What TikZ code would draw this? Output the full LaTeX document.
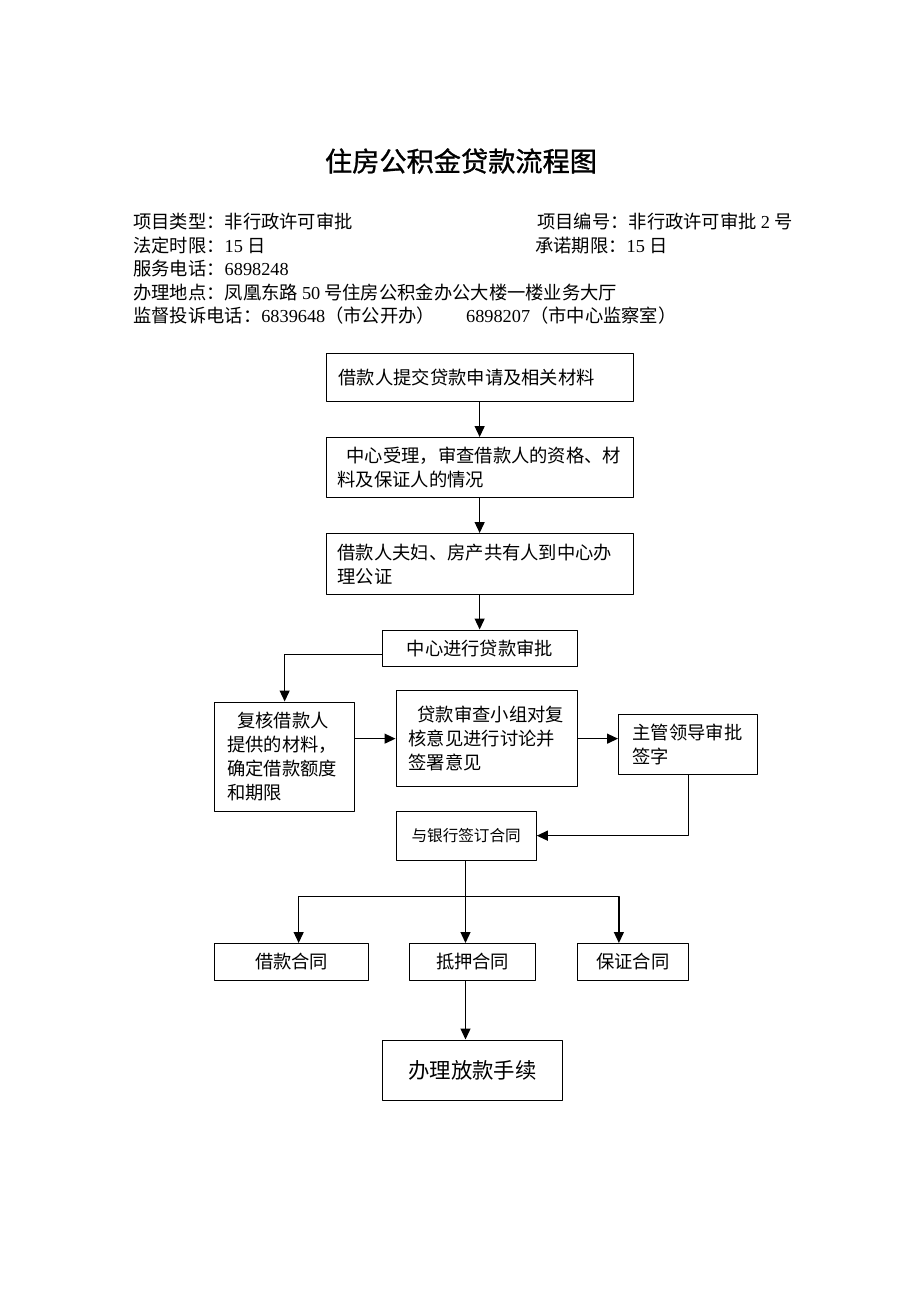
\documentclass[tikz,border=0pt]{standalone}
\usepackage{fontspec}
\setmainfont{Noto Sans CJK SC}
\newfontfamily\numfont{Liberation Serif}
\newfontfamily\headfont[FakeBold=1]{Noto Sans CJK SC}
\usepackage{tikz}
\usetikzlibrary{arrows.meta}
\newcommand\titlefont{\headfont\fontsize{27.2pt}{32pt}\selectfont}
\newcommand\flowfont{\fontsize{18.3pt}{23.8pt}\selectfont}
\newcommand\signfont{\fontsize{15.6pt}{20pt}\selectfont}
\newcommand\releasefont{\fontsize{21.4pt}{26pt}\selectfont}
\tikzset{
  flowbox/.style={draw,line width=1.3pt,anchor=north west,inner ysep=0pt,font=\flowfont},
  leftbox/.style={flowbox,align=left},
  infotext/.style={anchor=west,inner sep=0pt,font=\flowfont},
  flowline/.style={line width=1.3pt}
}

\begin{document}
\begin{tikzpicture}[line cap=round,line join=round,>={Triangle[length=11pt,width=10pt]},x=1pt,y=-1pt]
\useasboundingbox (0,0) rectangle (920,1302);
\node[font=\titlefont,inner sep=0pt] (title) at (461,161) {住房公积金贷款流程图};
\node[infotext] (kind) at (133,222) {项目类型：非行政许可审批};
\node[infotext] (code) at (537,222) {项目编号：非行政许可审批 {\numfont 2} 号};
\node[infotext] (legal) at (133,245.5) {法定时限：{\numfont 15} 日};
\node[infotext] (promise) at (535,245.5) {承诺期限：{\numfont 15} 日};
\node[infotext] (phone) at (133,269) {服务电话：{\numfont 6898248}};
\node[infotext] (place) at (133,292.5) {办理地点：凤凰东路 {\numfont 50} 号住房公积金办公大楼一楼业务大厅};
\node[infotext] (complain) at (133,316) {监督投诉电话：{\numfont 6839648}（市公开办）\hspace{31pt}{\numfont 6898207}（市中心监察室）};
\node[leftbox,inner xsep=12.5pt,text width=282pt,minimum width=307pt,minimum height=48.5pt] (apply) at (325.5,352.5) {借款人提交贷款申请及相关材料};
\node[leftbox,inner xsep=11.5pt,text width=284pt,minimum width=307pt,minimum height=60pt] (accept) at (325.5,437) {\hspace*{9pt}中心受理，审查借款人的资格、材\\料及保证人的情况};
\node[leftbox,inner xsep=11.5pt,text width=284pt,minimum width=307pt,minimum height=61pt] (notary) at (325.5,533) {借款人夫妇、房产共有人到中心办\\理公证};
\node[flowbox,inner xsep=0pt,minimum width=195.5pt,minimum height=36.5pt] (approve) at (381.5,629.5) {中心进行贷款审批};
\node[leftbox,inner xsep=12.5pt,text width=115pt,minimum width=140pt,minimum height=109pt] (review) at (214,701.5) {\hspace*{10pt}复核借款人\\提供的材料，\\确定借款额度\\和期限};
\node[leftbox,inner xsep=12.5pt,text width=156.5pt,minimum width=181.5pt,minimum height=96pt] (group) at (395.5,690) {\hspace*{9pt}贷款审查小组对复\\核意见进行讨论并\\签署意见};
\node[leftbox,inner xsep=14pt,text width=111pt,minimum width=139pt,minimum height=60pt] (chief) at (618,714) {主管领导审批\\签字};
\node[flowbox,font=\signfont,inner xsep=0pt,minimum width=140pt,minimum height=49pt] (sign) at (395.5,810.5) {与银行签订合同};
\node[flowbox,inner xsep=0pt,minimum width=154pt,minimum height=36.5pt] (loan) at (214,943) {借款合同};
\node[flowbox,inner xsep=0pt,minimum width=126pt,minimum height=36.5pt] (mortgage) at (409,943) {抵押合同};
\node[flowbox,inner xsep=0pt,minimum width=111.5pt,minimum height=36.5pt] (guarantee) at (576.5,943) {保证合同};
\node[flowbox,font=\releasefont,inner xsep=0pt,minimum width=180.5pt,minimum height=60.5pt] (release) at (381.5,1039.5) {办理放款手续};
\coordinate (split) at (465.5,896.5);
\draw [flowline,->] (apply.south) -- (accept.north);
\draw [flowline,->] (accept.south) -- (notary.north);
\draw [flowline,->] (notary.south) -- (notary.south |- approve.north);
\draw [flowline,->] ([yshift=-6pt]approve.west) -| (review.north);
\draw [flowline,->] (review.east |- group.west) -- (group.west);
\draw [flowline,->] (group.east) -- (group.east -| chief.west);
\draw [flowline,->] (chief.south) |- (sign.east);
\draw [flowline] (split |- sign.south) -- (split);
\draw [flowline,->] (split) -| ([xshift=7pt]loan.north);
\draw [flowline,->] (split) -- (split |- mortgage.north);
\draw [flowline,->] (split) -| ([xshift=-14pt]guarantee.north);
\draw [flowline,->] (split |- mortgage.south) -- (split |- release.north);
\end{tikzpicture}
\end{document}
